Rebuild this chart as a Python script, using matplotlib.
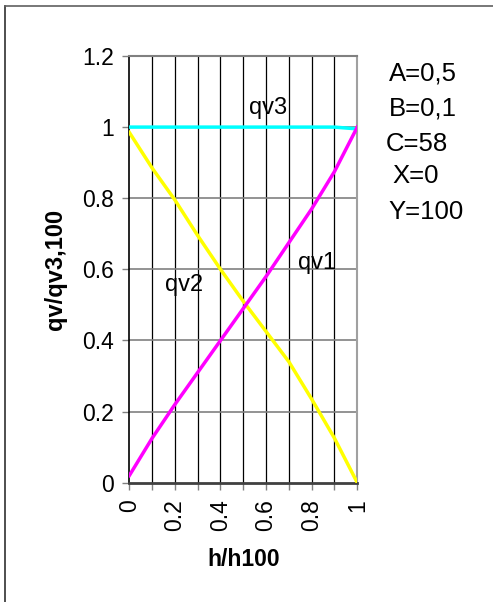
import matplotlib
matplotlib.use("Agg")
import matplotlib.pyplot as plt
from matplotlib.lines import Line2D

# relative stroke h/h100
h = [0.0, 0.1, 0.2, 0.3, 0.4, 0.5, 0.6, 0.7, 0.8, 0.9, 1.0]
qv1 = [0.02, 0.125, 0.22, 0.31, 0.40, 0.49, 0.58, 0.675, 0.77, 0.875, 1.0]
qv2 = [0.985, 0.885, 0.795, 0.695, 0.60, 0.51, 0.425, 0.34, 0.235, 0.125, 0.0]
qv3 = [1.0, 1.0, 1.0, 1.0, 1.0, 1.0, 1.0, 1.0, 1.0, 1.0, 0.995]

x_ticks = [0.0, 0.1, 0.2, 0.3, 0.4, 0.5, 0.6, 0.7, 0.8, 0.9, 1.0]
x_ticklabels = ["0", "", "0.2", "", "0.4", "", "0.6", "", "0.8", "", "1"]
y_ticks = [0, 0.2, 0.4, 0.6, 0.8, 1.0, 1.2]
y_ticklabels = ["0", "0.2", "0.4", "0.6", "0.8", "1", "1.2"]
params = ["A=0,5", "B=0,1", "C=58", "X=0", "Y=100"]

plt.rcParams["font.family"] = ["Liberation Sans", "DejaVu Sans"]

fig = plt.figure(figsize=(4.93, 6.02), dpi=100)
ax = fig.add_axes([0.2623, 0.1982, 0.4624, 0.7088])

ax.plot(h, qv3, color="#00FFFF", lw=2.5, zorder=3)
ax.plot(h, qv2, color="#FFFF00", lw=2.5, zorder=3)
ax.plot(h, qv1, color="#FF00FF", lw=2.5, zorder=4)

ax.set_xlim(0, 1)
ax.set_ylim(0, 1.2)
ax.set_xticks(x_ticks)
ax.set_xticklabels(x_ticklabels, rotation=90, fontsize=16.5)
ax.set_yticks(y_ticks)
ax.set_yticklabels(y_ticklabels, fontsize=16.5)
ax.tick_params(axis="both", direction="out", length=5, color="#808080", width=1)
ax.tick_params(axis="x", pad=7)
ax.tick_params(axis="y", pad=6)

# grid: vertical black, horizontal gray
for xv in x_ticks[1:-1]:
    ax.axvline(xv, color="black", lw=0.9, zorder=1)
for yv in y_ticks[1:-1]:
    ax.axhline(yv, color="#808080", lw=1.2, zorder=1)

ax.spines["left"].set_color("black")
ax.spines["left"].set_linewidth(1.2)
ax.spines["bottom"].set_color("#404040")
ax.spines["bottom"].set_linewidth(2)
ax.spines["top"].set_color("#808080")
ax.spines["top"].set_linewidth(1.5)
ax.spines["right"].set_color("#a0a0a0")
ax.spines["right"].set_linewidth(1.5)

ax.set_xlabel("h/h100", fontsize=16.5, fontweight="bold", labelpad=12)
ax.set_ylabel("qv/qv3,100", fontsize=17, fontweight="bold", labelpad=11)

ax.text(0.608, 1.053, "qv3", fontsize=17, ha="center", va="center")
ax.text(0.24, 0.555, "qv2", fontsize=17, ha="center", va="center")
ax.text(0.823, 0.618, "qv1", fontsize=17, ha="center", va="center")

# parameter block at right
ys = [73.5, 108.5, 144, 176, 212]
xs = [389, 389, 386, 392, 388]
for txt, xp, yp in zip(params, xs, ys):
    fig.text(xp / 493, 1 - yp / 602, txt, fontsize=18.5, ha="left", va="center")

# outer frame (left and top edges visible)
fig.add_artist(Line2D([5 / 493, 5 / 493], [0, 1 - 6 / 602], transform=fig.transFigure,
                      color="#303030", lw=1.2))
fig.add_artist(Line2D([5 / 493, 1], [1 - 6 / 602, 1 - 6 / 602], transform=fig.transFigure,
                      color="#606060", lw=1.2))

fig.savefig("out.png", dpi=100)
